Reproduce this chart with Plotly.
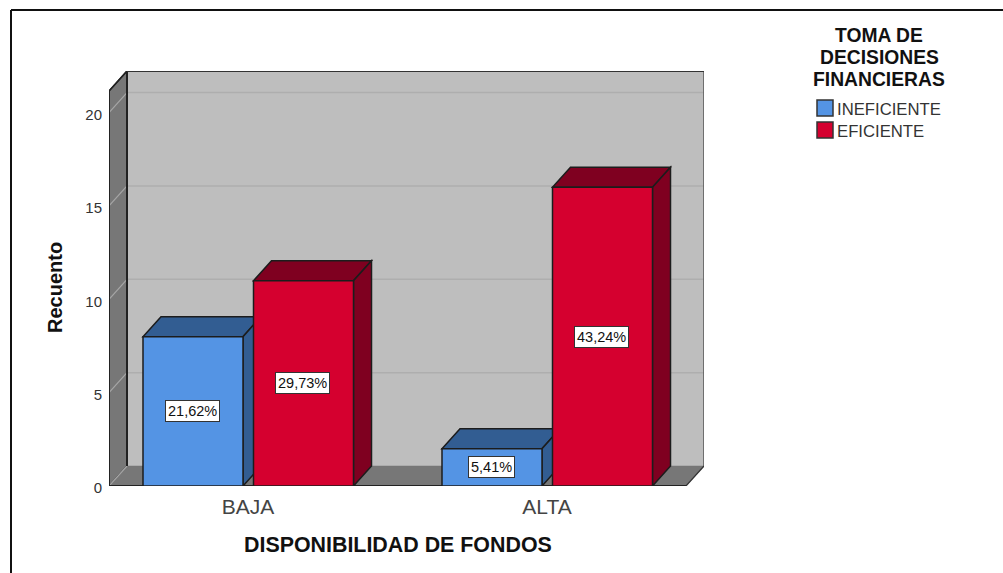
import plotly.graph_objects as go

categories = ["BAJA", "ALTA"]
ineficiente = [8, 2]
eficiente = [11, 16]
pct_ineficiente = ["21,62%", "5,41%"]
pct_eficiente = ["29,73%", "43,24%"]
y_ticks = [0, 5, 10, 15, 20]
legend_title = ["TOMA DE", "DECISIONES", "FINANCIERAS"]
series_names = ["INEFICIENTE", "EFICIENTE"]
x_title = "DISPONIBILIDAD DE FONDOS"
y_title = "Recuento"

# colours
BLUE, BLUE_D = "#5494E4", "#325D92"
RED, RED_D = "#D5002F", "#7F0020"
WALL, SIDE, EDGE = "#BEBEBE", "#777777", "#1C1C1C"

# plot-area geometry (window pixels)
L, R, T, B = 109, 704, 71, 486
UNIT_X = 299.0      # pixels between categories
UNIT_Y = 18.67      # pixels per count
DX = 18 / UNIT_X    # depth of the 3D box, data units
DY = 20 / UNIT_Y
BAR_W = 100 / UNIT_X
OFF_A = -105 / UNIT_X
OFF_B = 5.5 / UNIT_X
X0 = (L - 248) / UNIT_X
X1 = (R - 248) / UNIT_X
XF = X1 - DX
Y1 = (B - T) / UNIT_Y
YF = Y1 - DY


def px(v):
    return (v - L) / (R - L)


def py(v):
    return (B - v) / (B - T)


def poly(points, fill, line=EDGE, width=1.5):
    path = "M" + " L".join(f"{a:.5f},{b:.5f}" for a, b in points) + " Z"
    return dict(type="path", path=path, xref="x", yref="y", fillcolor=fill,
                line=dict(color=line, width=width), layer="below")


def seg(a, b, c, d, color, width=1.5):
    return dict(type="line", x0=a, y0=b, x1=c, y1=d, xref="x", yref="y",
                line=dict(color=color, width=width), layer="below")


shapes = [
    poly([(X0 + DX, DY), (X1, DY), (X1, Y1), (X0 + DX, Y1)], WALL, WALL, 0.5),
    poly([(X0, 0), (X0 + DX, DY), (X0 + DX, Y1), (X0, YF)], SIDE),
    poly([(X0, 0), (X0 + DX, DY), (X1, DY), (XF, 0)], SIDE, SIDE, 0.5),
]
for t in y_ticks:
    shapes.append(seg(X0, t, X0 + DX, t + DY, "#A6A6A6", 1.2))
    if t:
        shapes.append(seg(X0 + DX, t + DY, X1, t + DY, "#AEAEAE", 1.5))
shapes += [
    seg(X0, 0, XF, 0, "#222222", 2),
    seg(X0 + DX, DY, X0 + DX, Y1, "#222222", 2),
    seg(X0, 0, X0, YF, "#222222", 2),
    seg(X0, YF, X0 + DX, Y1, "#222222", 1.5),
    seg(XF, 0, X1, DY, "#333333", 1.2),
    seg(X1, DY, X1, Y1, "#555555", 1.5),
    seg(X0 + DX, Y1, X1, Y1, "#333333", 2),
]


def box_sides(values, offset, top_color):
    out = []
    for i, v in enumerate(values):
        a, b = i + offset, i + offset + BAR_W
        out.append(poly([(a, v), (a + DX, v + DY), (b + DX, v + DY), (b, v)], top_color))
        out.append(poly([(b, 0), (b + DX, DY), (b + DX, v + DY), (b, v)], top_color))
    return out


shapes += box_sides(ineficiente, OFF_A, BLUE_D)
shapes += box_sides(eficiente, OFF_B, RED_D)

# page frame
frame = dict(type="line", xref="paper", yref="paper", line=dict(color="#111111", width=2), layer="above")
shapes.append({**frame, "x0": px(11), "y0": py(10), "x1": px(1003), "y1": py(10)})
shapes.append({**frame, "x0": px(11), "y0": py(10), "x1": px(11), "y1": py(573)})

fig = go.Figure()
xs = list(range(len(categories)))
for vals, off, col, name in [(ineficiente, OFF_A, BLUE, series_names[0]),
                             (eficiente, OFF_B, RED, series_names[1])]:
    fig.add_trace(go.Bar(x=xs, y=vals, name=name, width=BAR_W, offset=off,
                         marker=dict(color=col, line=dict(color=EDGE, width=1.5)),
                         showlegend=False))

annotations = []
for vals, pcts, off in [(ineficiente, pct_ineficiente, OFF_A), (eficiente, pct_eficiente, OFF_B)]:
    for i, (v, p) in enumerate(zip(vals, pcts)):
        annotations.append(dict(x=i + off + BAR_W / 2 - 1 / UNIT_X, y=v / 2, xref="x", yref="y", text=p,
                                showarrow=False, font=dict(family="Liberation Sans", size=14.5, color="#111111"),
                                bgcolor="#FFFFFF", bordercolor="#333333", borderwidth=1, borderpad=2))


def label(x, y, text, size, color="#111111", anchor="center", angle=0, **extra):
    return dict(x=px(x), y=py(y), xref="paper", yref="paper", text=text, xanchor=anchor, yanchor="middle",
                textangle=angle, showarrow=False, font=dict(family="Liberation Sans", size=size, color=color), **extra)


for i, line in enumerate(legend_title):
    annotations.append(label(879, 35.5 + i * 21.8, f"<b>{line}</b>", 19.3, borderpad=0))

for i, (name, col) in enumerate(zip(series_names, [BLUE, RED])):
    c = 108 + i * 22
    shapes.append(dict(type="rect", xref="paper", yref="paper", x0=px(817), x1=px(833),
                       y0=py(c - 8), y1=py(c + 8), fillcolor=col,
                       line=dict(color="#333333", width=1.5), layer="above"))
    annotations.append(label(835, c + 1, name, 16.7, "#333333", "left"))

annotations.append(label(398, 545, f"<b>{x_title}</b>", 21.4))
annotations.append(label(55, 288, f"<b>{y_title}</b>", 20, angle=-90))

fig.update_layout(
    width=1003, height=573, autosize=False,
    margin=dict(l=L, r=1003 - R, t=T, b=573 - B, pad=0),
    paper_bgcolor="#FFFFFF", plot_bgcolor="rgba(0,0,0,0)",
    shapes=shapes, annotations=annotations, showlegend=False,
    xaxis=dict(range=[X0, X1], tickvals=xs, ticktext=categories, showgrid=False, zeroline=False,
               showline=False, ticks="outside", ticklen=2, tickcolor="rgba(0,0,0,0)",
               tickfont=dict(family="Liberation Sans", size=21, color="#444444")),
    yaxis=dict(range=[0, Y1], tickvals=y_ticks, showgrid=False, zeroline=False, showline=False,
               ticks="outside", ticklen=3, tickcolor="rgba(0,0,0,0)", ticklabelshift=2,
               tickfont=dict(family="Liberation Sans", size=15, color="#333333")),
)
fig.write_html("out.html", config=dict(displayModeBar=False),
               post_script="document.body.style.margin='0';document.documentElement.style.overflow='hidden';")
